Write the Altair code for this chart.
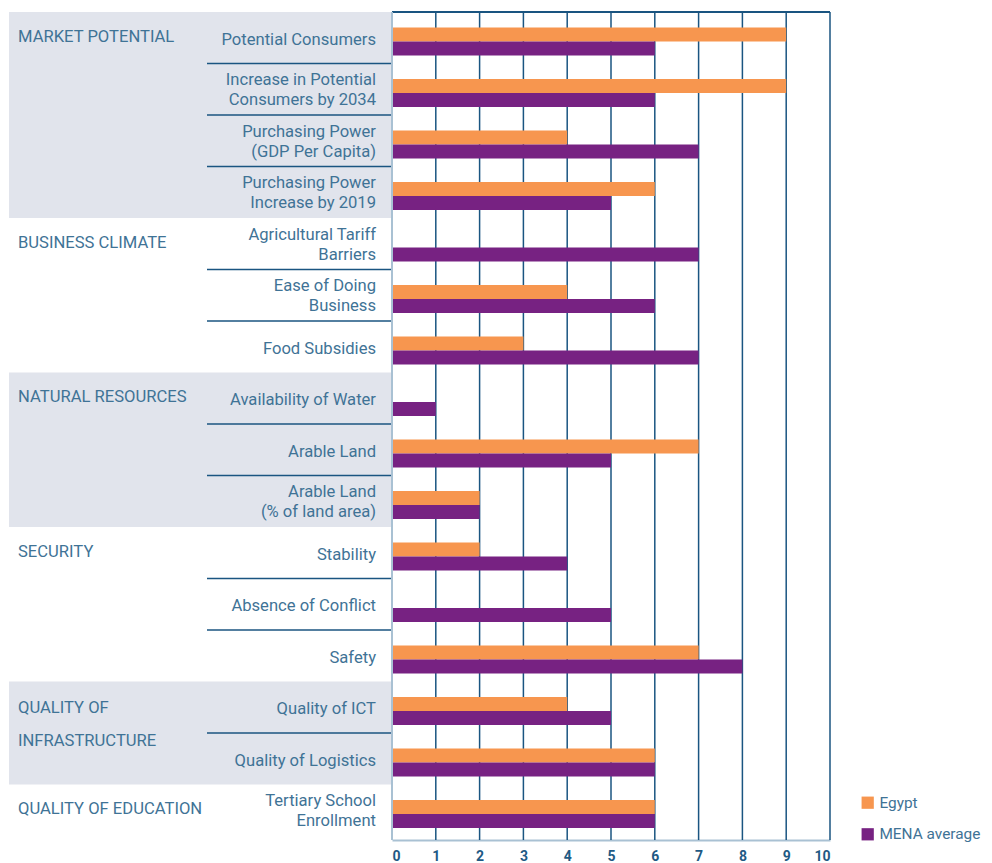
import altair as alt
import pandas as pd

rows = [
    "Potential Consumers",
    "Increase in Potential\nConsumers by 2034",
    "Purchasing Power\n(GDP Per Capita)",
    "Purchasing Power\nIncrease by 2019",
    "Agricultural Tariff\nBarriers",
    "Ease of Doing\nBusiness",
    "Food Subsidies",
    "Availability of Water",
    "Arable Land",
    "Arable Land\n(% of land area)",
    "Stability",
    "Absence of Conflict",
    "Safety",
    "Quality of ICT",
    "Quality of Logistics",
    "Tertiary School\nEnrollment",
]
egypt = [9, 9, 4, 6, 0, 4, 3, 0, 7, 2, 2, 0, 7, 4, 6, 6]
mena = [6, 6, 7, 5, 7, 6, 7, 1, 5, 2, 4, 5, 8, 5, 6, 6]
series = ["Egypt", "MENA average"]
colors = ["#f7964f", "#772282"]

groups = ["MARKET POTENTIAL", "BUSINESS CLIMATE", "NATURAL RESOURCES",
          "SECURITY", "QUALITY OF\nINFRASTRUCTURE", "QUALITY OF EDUCATION"]
group_sizes = [4, 3, 3, 3, 2, 1]
shaded = [True, False, True, False, True, False]
ticks = list(range(0, 11))

keys = [f"r{i:02d}" for i in range(len(rows))]

bars = pd.DataFrame(
    [{"key": k, "series": series[0], "value": e} for k, e in zip(keys, egypt)]
    + [{"key": k, "series": series[1], "value": m} for k, m in zip(keys, mena)]
)
labels = pd.DataFrame({"key": keys, "label": [r.split("\n") for r in rows]})
lab1 = labels[[len(l) == 1 for l in labels["label"]]]
lab2 = labels[[len(l) == 2 for l in labels["label"]]]

# group info
g_first, g_last, seps = [], [], []
idx = 0
for n in group_sizes:
    g_first.append(keys[idx])
    g_last.append(keys[idx + n - 1])
    for j in range(1, n):
        seps.append(keys[idx + j])
    idx += n
grp = pd.DataFrame({"label": [g.split("\n") for g in groups], "first": g_first,
                    "last": g_last, "shaded": shaded})
grp_single = grp[[len(l) == 1 for l in grp["label"]]]
grp_multi = grp[[len(l) > 1 for l in grp["label"]]]
sep_df = pd.DataFrame({"key": seps})
grid_df = pd.DataFrame({"t": ticks[1:]})

TXT = "#3f7396"
GRID = "#1a5581"
LIGHT = "#a9c1d3"
FONT = "Roboto"
FS = 16.6

W, H = 438, 828
yscale = alt.Scale(domain=keys, range=[0, 824], paddingInner=0, paddingOuter=0)
ysc = alt.Y("key:N", scale=yscale, axis=None)
xscale = alt.Scale(domain=[0, 10], nice=False)

bg = alt.Chart(grp[grp["shaded"]]).mark_rect(color="#e1e4ec").encode(
    x=alt.value(-383), x2=alt.value(-1),
    y=alt.Y("first:N", scale=yscale, axis=None, bandPosition=0),
    y2=alt.Y2("last:N", bandPosition=1),
)

seplines = alt.Chart(sep_df).mark_rule(color=GRID, strokeWidth=1.3).encode(
    x=alt.value(-185), x2=alt.value(0),
    y=alt.Y("key:N", scale=yscale, axis=None, bandPosition=0),
)

grid = alt.Chart(grid_df).mark_rule(color=GRID, strokeWidth=1.5).encode(
    x=alt.X("t:Q", scale=xscale), y=alt.value(0), y2=alt.value(H),
)
topline = alt.Chart(grid_df).mark_rule(color=GRID, strokeWidth=1.5).encode(
    x=alt.value(0), x2=alt.value(W), y=alt.value(0),
)
leftline = alt.Chart(grid_df).mark_rule(color=LIGHT, strokeWidth=2).encode(
    x=alt.value(0), y=alt.value(0), y2=alt.value(H),
)

barchart = alt.Chart(bars).mark_bar(opacity=1).encode(
    x=alt.X("value:Q", scale=xscale,
            axis=alt.Axis(values=ticks, grid=False, ticks=False, title=None,
                          domainColor=LIGHT, domainWidth=2, labelColor="#1f5a84",
                          labelFontWeight="bold", labelFont=FONT, labelFontSize=14,
                          labelPadding=9)),
    y=ysc,
    yOffset=alt.YOffset("series:N", sort=series,
                        scale=alt.Scale(range=[15.5, 43.5], paddingInner=0, paddingOuter=0)),
    color=alt.Color("series:N", sort=series,
                    scale=alt.Scale(domain=series, range=colors),
                    legend=alt.Legend(title=None, orient="none", legendX=468, legendY=783,
                                      symbolType="square", symbolSize=150,
                                      symbolStrokeWidth=0, labelFont=FONT,
                                      labelFontSize=15.4, labelColor=TXT,
                                      labelOffset=4, rowPadding=14.6, padding=0,
                                      labelLimit=200)),
)

sublabels1 = alt.Chart(lab1).mark_text(
    align="right", baseline="middle", dx=-16, dy=2, font=FONT, fontSize=FS,
    color=TXT, lineHeight=20,
).encode(x=alt.value(0), y=ysc, text="label")

sublabels2 = alt.Chart(lab2).mark_text(
    align="right", baseline="middle", dx=-16, dy=-9, font=FONT, fontSize=FS,
    color=TXT, lineHeight=20,
).encode(x=alt.value(0), y=ysc, text="label")

glabels = alt.Chart(grp_single).mark_text(
    align="left", baseline="middle", dy=-1, font=FONT, fontSize=FS, color=TXT,
).encode(x=alt.value(-374), y=alt.Y("first:N", scale=yscale, axis=None), text="label")

glabels_multi = alt.Chart(grp_multi).mark_text(
    align="left", baseline="top", dy=-7, font=FONT, fontSize=FS, color=TXT,
    lineHeight=33,
).encode(x=alt.value(-374), y=alt.Y("first:N", scale=yscale, axis=None), text="label")

chart = alt.layer(
    bg, seplines, grid, topline, barchart, leftline, sublabels1, sublabels2,
    glabels, glabels_multi
).properties(
    width=W, height=H,
    padding={"left": 384, "top": 4, "right": 154, "bottom": 23},
    autosize=alt.AutoSizeParams(type="none"),
).configure_view(stroke=None)

chart.save("out.html", embed_options={"renderer": "svg", "actions": False})
